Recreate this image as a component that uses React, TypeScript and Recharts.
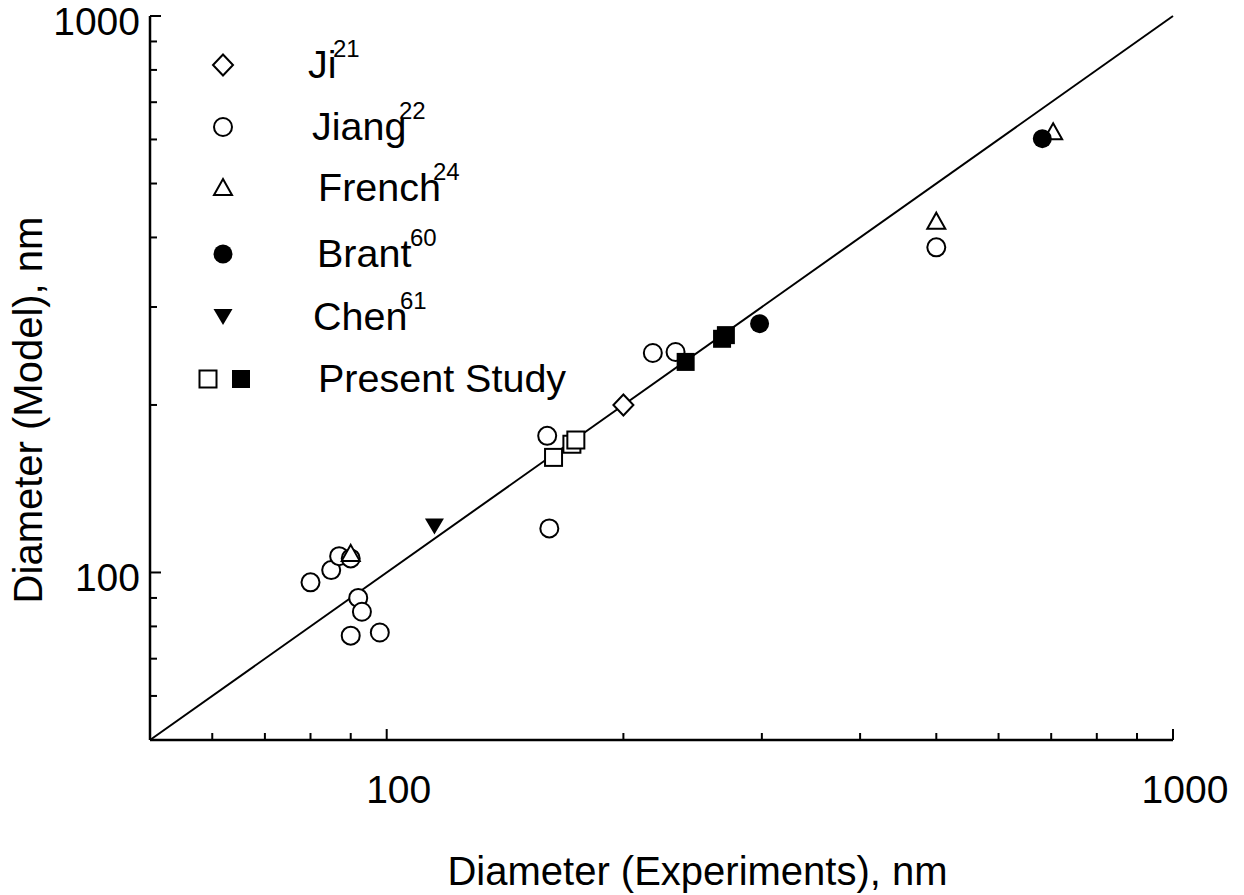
import React from 'react'
import { ScatterChart, Scatter, XAxis, YAxis, ReferenceLine, Legend } from 'recharts'

const FONT = '"Liberation Sans", Arial, sans-serif'

const jiData = [{ x: 200, y: 200 }]
const jiangData = [
  { x: 80, y: 96 },
  { x: 85, y: 101 },
  { x: 87, y: 107 },
  { x: 90, y: 106 },
  { x: 92, y: 90 },
  { x: 93, y: 85 },
  { x: 90, y: 77 },
  { x: 98, y: 78 },
  { x: 160, y: 176 },
  { x: 161, y: 120 },
  { x: 218, y: 248 },
  { x: 233, y: 249 },
  { x: 500, y: 384 },
]
const frenchData = [
  { x: 90, y: 108 },
  { x: 500, y: 427 },
  { x: 704, y: 618 },
]
const brantData = [
  { x: 298, y: 280 },
  { x: 682, y: 602 },
]
const chenData = [{ x: 115, y: 121 }]
const presentOpen = [
  { x: 163, y: 161 },
  { x: 172, y: 170 },
  { x: 174, y: 173 },
]
const presentFilled = [
  { x: 240, y: 239 },
  { x: 267, y: 263 },
  { x: 270, y: 267 },
]
const diagonal = [
  { x: 50, y: 50 },
  { x: 1000, y: 1000 },
]

const axisDomain = [50, 1000]
const axisTicks = [60, 70, 80, 90, 100, 200, 300, 400, 500, 600, 700, 800, 900, 1000]
const labeledTicks = [100, 1000]

const legendRows = [
  { label: 'Ji', sup: '21', marks: ['diamond'] },
  { label: 'Jiang', sup: '22', marks: ['circle'] },
  { label: 'French', sup: '24', marks: ['triangle'] },
  { label: 'Brant', sup: '60', marks: ['dot'] },
  { label: 'Chen', sup: '61', marks: ['down'] },
  { label: 'Present Study', sup: '', marks: ['square', 'filledSquare'] },
]

function Marker({ kind, cx, cy }: { kind: string; cx: number; cy: number }) {
  const line = { stroke: '#000', strokeWidth: 2 }
  switch (kind) {
    case 'circle':
      return <circle cx={cx} cy={cy} r={9} fill="#fff" {...line} />
    case 'dot':
      return <circle cx={cx} cy={cy} r={9.5} fill="#000" />
    case 'diamond':
      return (
        <polygon
          points={`${cx},${cy - 10.5} ${cx + 10},${cy} ${cx},${cy + 10.5} ${cx - 10},${cy}`}
          fill="#fff"
          {...line}
        />
      )
    case 'triangle':
      return (
        <polygon
          points={`${cx},${cy - 9} ${cx + 9},${cy + 7} ${cx - 9},${cy + 7}`}
          fill="#fff"
          {...line}
        />
      )
    case 'down':
      return <polygon points={`${cx - 9.5},${cy - 8} ${cx + 9.5},${cy - 8} ${cx},${cy + 8}`} fill="#000" />
    case 'square':
      return <rect x={cx - 8.5} y={cy - 8.5} width={17} height={17} fill="#fff" {...line} />
    default:
      return <rect x={cx - 9} y={cy - 9} width={18} height={18} fill="#000" />
  }
}

const shapeOf = (kind: string) => (p: any) => <Marker kind={kind} cx={p.cx} cy={p.cy} />

// ticks point into the plot; only 100 and 1000 get numbers
function makeTick(side: 'bottom' | 'top' | 'left' | 'right') {
  return (p: any) => {
    const v = p.payload.value
    const major = labeledTicks.includes(v)
    const len = major ? 11 : 7
    const { x, y } = p
    let line
    if (side === 'bottom') line = { x1: x, x2: x, y1: y, y2: y - len }
    else if (side === 'top') line = { x1: x, x2: x, y1: y, y2: y + len }
    else if (side === 'left') line = { x1: x, x2: x + len, y1: y, y2: y }
    else line = { x1: x, x2: x - len, y1: y, y2: y }
    return (
      <g>
        <line {...line} stroke="#000" strokeWidth={2} />
        {major && side === 'bottom' && (
          <text x={x + 12} y={y + 63} textAnchor="middle" fontSize={39} fontFamily={FONT} fill="#000">
            {v}
          </text>
        )}
        {major && side === 'left' && (
          <text x={x - 10} y={y + 19} textAnchor="end" fontSize={39} fontFamily={FONT} fill="#000">
            {v}
          </text>
        )}
      </g>
    )
  }
}

function LegendBox() {
  return (
    <svg width={620} height={420} style={{ display: 'block' }}>
      {legendRows.map((row, i) => {
        const cy = [65, 127, 188, 254, 317, 379][i]
        const tx = [308, 312, 318, 317, 313, 318][i]
        const sx = [333, 399, 433, 410, 400, 0][i]
        return (
          <g key={row.label}>
            {row.marks.length === 1 ? (
              <Marker kind={row.marks[0]} cx={223} cy={cy} />
            ) : (
              <>
                <Marker kind={row.marks[0]} cx={208} cy={cy} />
                <Marker kind={row.marks[1]} cx={241} cy={cy} />
              </>
            )}
            <text x={tx} y={cy + 13} fontSize={39.5} fontFamily={FONT} fill="#000">
              {row.label}
            </text>
            {row.sup && (
              <text x={sx} y={cy - 8} fontSize={24} fontFamily={FONT} fill="#000">
                {row.sup}
              </text>
            )}
          </g>
        )
      })}
    </svg>
  )
}

const axisLine = { stroke: '#000', strokeWidth: 2.5 }

export default function App() {
  return (
    <div style={{ position: 'absolute', left: 0, top: 0, background: '#fff' }}>
      <ScatterChart width={1244} height={895} margin={{ top: 16, right: 71, left: 0, bottom: 0 }}>
        <XAxis
          xAxisId="b"
          dataKey="x"
          type="number"
          scale="log"
          domain={axisDomain}
          allowDataOverflow
          ticks={axisTicks}
          interval={0}
          height={155}
          tickSize={0}
          tickMargin={0}
          tickLine={false}
          axisLine={axisLine}
          tick={makeTick('bottom')}
          label={{
            content: (props: any) => {
              const vb = props.viewBox
              return (
                <text
                  x={vb.x + vb.width / 2 + 36}
                  y={vb.y + 145}
                  textAnchor="middle"
                  fontSize={40}
                  fontFamily={FONT}
                  fill="#000"
                >
                  Diameter (Experiments), nm
                </text>
              )
            },
          }}
        />
        <XAxis
          xAxisId="t"
          orientation="top"
          type="number"
          scale="log"
          domain={axisDomain}
          allowDataOverflow
          ticks={axisTicks}
          interval={0}
          height={0}
          tickSize={0}
          tickMargin={0}
          tickLine={false}
          axisLine={axisLine}
          tick={makeTick('top')}
        />
        <YAxis
          yAxisId="l"
          dataKey="y"
          type="number"
          scale="log"
          domain={axisDomain}
          allowDataOverflow
          ticks={axisTicks}
          interval={0}
          width={150}
          tickSize={0}
          tickMargin={0}
          tickLine={false}
          axisLine={axisLine}
          tick={makeTick('left')}
          label={{
            content: (props: any) => {
              const vb = props.viewBox
              const cx = vb.x + 42
              const cy = vb.y + vb.height / 2 + 32
              return (
                <text
                  x={cx}
                  y={cy}
                  transform={`rotate(-90, ${cx}, ${cy})`}
                  textAnchor="middle"
                  fontSize={40}
                  fontFamily={FONT}
                  fill="#000"
                >
                  Diameter (Model), nm
                </text>
              )
            },
          }}
        />
        <YAxis
          yAxisId="r"
          orientation="right"
          type="number"
          scale="log"
          domain={axisDomain}
          allowDataOverflow
          ticks={axisTicks}
          interval={0}
          width={0}
          tickSize={0}
          tickMargin={0}
          tickLine={false}
          axisLine={axisLine}
          tick={makeTick('right')}
        />
        <ReferenceLine
          xAxisId="b"
          yAxisId="l"
          segment={diagonal}
          stroke="#000"
          strokeWidth={2}
          ifOverflow="visible"
        />
        <Scatter xAxisId="b" yAxisId="l" name="Jiang" data={jiangData} shape={shapeOf('circle')} isAnimationActive={false} />
        <Scatter xAxisId="b" yAxisId="l" name="French" data={frenchData} shape={shapeOf('triangle')} isAnimationActive={false} />
        <Scatter xAxisId="b" yAxisId="l" name="Brant" data={brantData} shape={shapeOf('dot')} isAnimationActive={false} />
        <Scatter xAxisId="b" yAxisId="l" name="Chen" data={chenData} shape={shapeOf('down')} isAnimationActive={false} />
        <Scatter xAxisId="b" yAxisId="l" name="Ji" data={jiData} shape={shapeOf('diamond')} isAnimationActive={false} />
        <Scatter xAxisId="b" yAxisId="l" name="Present (open)" data={presentOpen} shape={shapeOf('square')} isAnimationActive={false} />
        <Scatter xAxisId="b" yAxisId="l" name="Present (filled)" data={presentFilled} shape={shapeOf('filledSquare')} isAnimationActive={false} />
        <Legend
          layout="vertical"
          align="center"
          verticalAlign="middle"
          wrapperStyle={{ position: 'absolute', left: 0, top: 0, width: 620, height: 420 }}
          content={() => <LegendBox />}
        />
      </ScatterChart>
    </div>
  )
}
